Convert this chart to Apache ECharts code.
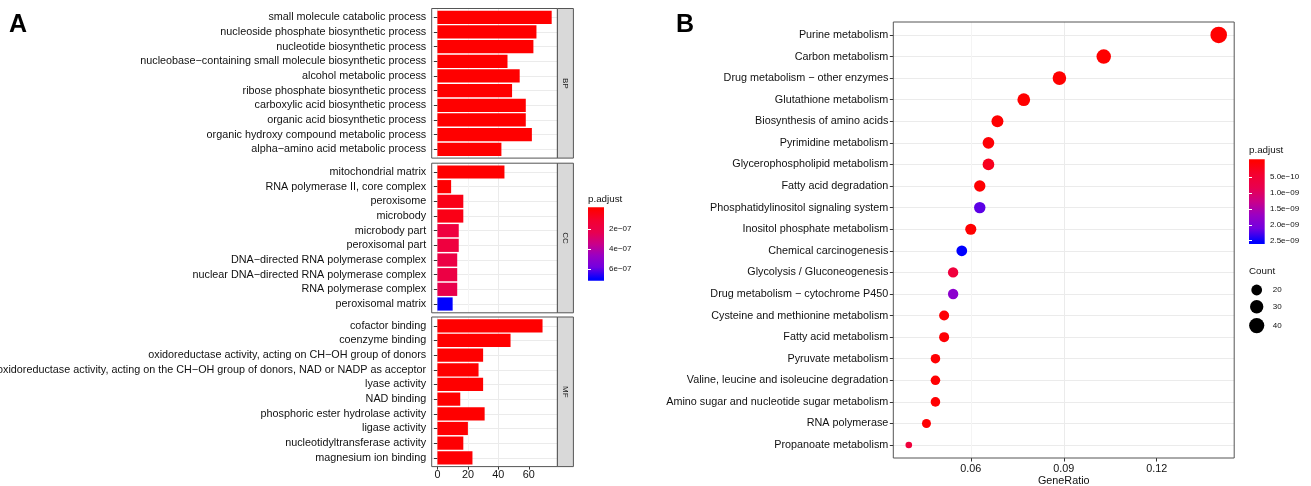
<!DOCTYPE html>
<html>
<head>
<meta charset="utf-8">
<script src="https://cdn.jsdelivr.net/npm/echarts@6/dist/echarts.min.js"></script>
<style>
  html, body { margin: 0; padding: 0; background: #fff; }
  #main { width: 1311px; height: 486px; }
</style>
</head>
<body>
<div id="main"></div>
<script>
// ---- panel A: GO enrichment, one facet per ontology ----
var bpTerms = ['small molecule catabolic process', 'nucleoside phosphate biosynthetic process', 'nucleotide biosynthetic process',
  'nucleobase\u2212containing small molecule biosynthetic process', 'alcohol metabolic process', 'ribose phosphate biosynthetic process',
  'carboxylic acid biosynthetic process', 'organic acid biosynthetic process', 'organic hydroxy compound metabolic process',
  'alpha\u2212amino acid metabolic process'];
var bpCounts = [75, 65, 63, 46, 54, 49, 58, 58, 62, 42];
var bpPadj = [1.5e-15, 2.0e-13, 3.1e-13, 4.4e-12, 6.0e-12, 2.3e-11, 3.3e-11, 3.6e-11, 8.1e-11, 2.2e-10];

var ccTerms = ['mitochondrial matrix', 'RNA polymerase II, core complex', 'peroxisome', 'microbody', 'microbody part',
  'peroxisomal part', 'DNA\u2212directed RNA polymerase complex', 'nuclear DNA\u2212directed RNA polymerase complex',
  'RNA polymerase complex', 'peroxisomal matrix'];
var ccCounts = [44, 9, 17, 17, 14, 14, 13, 13, 13, 10];
var ccPadj = [1.1e-10, 3.6e-09, 5.2e-08, 5.2e-08, 1.7e-07, 1.7e-07, 1.9e-07, 1.9e-07, 2.2e-07, 7.0e-07];

var mfTerms = ['cofactor binding', 'coenzyme binding', 'oxidoreductase activity, acting on CH\u2212OH group of donors',
  'oxidoreductase activity, acting on the CH\u2212OH group of donors, NAD or NADP as acceptor', 'lyase activity', 'NAD binding',
  'phosphoric ester hydrolase activity', 'ligase activity', 'nucleotidyltransferase activity', 'magnesium ion binding'];
var mfCounts = [69, 48, 30, 27, 30, 15, 31, 20, 17, 23];
var mfPadj = [2.5e-14, 1.1e-12, 6.3e-11, 1.4e-10, 3.2e-10, 4.0e-10, 9.1e-10, 4.6e-09, 6.9e-09, 9.7e-09];

var countTicksA = [0, 20, 40, 60];
var padjTicksA = [2e-07, 4e-07, 6e-07];

// ---- panel B: KEGG dot plot ----
var keggTerms = ['Purine metabolism', 'Carbon metabolism', 'Drug metabolism \u2212 other enzymes', 'Glutathione metabolism',
  'Biosynthesis of amino acids', 'Pyrimidine metabolism', 'Glycerophospholipid metabolism', 'Fatty acid degradation',
  'Phosphatidylinositol signaling system', 'Inositol phosphate metabolism', 'Chemical carcinogenesis',
  'Glycolysis / Gluconeogenesis', 'Drug metabolism \u2212 cytochrome P450', 'Cysteine and methionine metabolism',
  'Fatty acid metabolism', 'Pyruvate metabolism', 'Valine, leucine and isoleucine degradation',
  'Amino sugar and nucleotide sugar metabolism', 'RNA polymerase', 'Propanoate metabolism'];
var keggRatio = [0.1400, 0.1029, 0.0886, 0.0771, 0.0686, 0.0657, 0.0657, 0.0629, 0.0629, 0.0600,
  0.0571, 0.0543, 0.0543, 0.0514, 0.0514, 0.0486, 0.0486, 0.0486, 0.0457, 0.0400];
var keggCounts = [49, 36, 31, 27, 24, 23, 23, 22, 22, 21, 20, 19, 19, 18, 18, 17, 17, 17, 16, 14];
var keggPadj = [1.2e-15, 3.0e-14, 5.3e-13, 2.1e-12, 6.6e-12, 4.2e-11, 2.6e-10, 1.0e-11, 2.2e-09, 8.0e-12,
  2.54e-09, 5.7e-10, 1.85e-09, 3.4e-11, 4.5e-11, 1.3e-11, 1.5e-11, 1.6e-11, 3.0e-11, 5.6e-10];

var ratioTicksB = [0.06, 0.09, 0.12];
var padjTicksB = [5e-10, 1e-09, 1.5e-09, 2e-09, 2.5e-09];
var countBreaks = [20, 30, 40];

// ---- look ----
var FONT = '"Liberation Sans", Arial, Helvetica, sans-serif';
var TXT = '#111';
var FS = 10.8;
var MAJOR = '#ebebeb', MINOR = '#f4f4f4', FRAME = '#555';
// red -> blue, stepped through Lab like ggplot's gradient
var PALETTE = ['#ff0000', '#f40031', '#e80050', '#ca0089', '#9a00c3', '#7300e0', '#0000ff'];

var A = { left: 431.7, right: 557.4, tops: [8.5, 163.2, 317.0], height: 149.6, strip: 16 };
var B = { left: 893.3, right: 1234.2, top: 22, bottom: 458 };

function minOf(a) { return Math.min.apply(null, a); }
function maxOf(a) { return Math.max.apply(null, a); }

function sci(v, digits) {
  var s = v.toExponential(digits).split('e');
  var e = parseInt(s[1], 10);
  var a = Math.abs(e);
  return s[0] + 'e' + (e < 0 ? '\u2212' : '+') + (a < 10 ? '0' + a : a);
}

function barGradient() {
  var e = 0.025;
  return {
    type: 'linear', x: 0, y: 0, x2: 0, y2: 1,
    colorStops: PALETTE.map(function (c, k) { return { offset: e + (1 - 2 * e) * k / (PALETTE.length - 1), color: c }; })
  };
}

var grids = [], xAxis = [], yAxis = [], series = [], legends = [];

function grid(o) {
  o.outerBoundsMode = 'none';
  o.containLabel = false;
  grids.push(o);
  return grids.length - 1;
}
function off(gi) {
  return { gridIndex: gi, type: 'value', show: false, min: 0, max: 1 };
}
function frameGrid(l, t, w, h, fill) {
  var gi = grid({ left: l, top: t, width: w, height: h, show: true, z: 3,
    borderColor: FRAME, borderWidth: 1, backgroundColor: fill || 'transparent' });
  xAxis.push(off(gi));
  return gi;
}
// horizontal grid lines through the category centres (ggplot pads 0.6 of a row at each end)
function rowLines(l, t, w, h, n) {
  var unit = h / (n + 0.2);
  var gi = grid({ left: l, top: t + 0.6 * unit, width: w, height: (n - 1) * unit });
  xAxis.push(off(gi));
  yAxis.push({
    gridIndex: gi, type: 'value', min: 0, max: n - 1, interval: 1,
    axisLine: { show: false }, axisTick: { show: false }, axisLabel: { show: false },
    splitLine: { show: true, lineStyle: { color: MAJOR, width: 1 } }
  });
}

// ---------- panel A ----------
var facets = [
  { name: 'BP', terms: bpTerms, counts: bpCounts, padj: bpPadj },
  { name: 'CC', terms: ccTerms, counts: ccCounts, padj: ccPadj },
  { name: 'MF', terms: mfTerms, counts: mfCounts, padj: mfPadj }
];
var cntMax = maxOf(bpCounts.concat(ccCounts, mfCounts));
var xMinA = -0.05 * cntMax, xMaxA = 1.05 * cntMax;
var allPadjA = bpPadj.concat(ccPadj, mfPadj);
var pMinA = minOf(allPadjA), pMaxA = maxOf(allPadjA);
var barIdx = [];

facets.forEach(function (f, i) {
  var W = A.right - A.left, T = A.tops[i], H = A.height;
  var inset = 0.1 * H / (f.terms.length + 0.2);
  var last = i === facets.length - 1;

  // vertical grid lines + bottom axis, from 0 to the right edge
  var zx = A.left + (0 - xMinA) / (xMaxA - xMinA) * W;
  var gs = grid({ left: zx, top: T, width: A.right - zx, height: H });
  xAxis.push({
    gridIndex: gs, type: 'value', min: 0, max: xMaxA, interval: 10,
    axisLine: { show: false },
    axisTick: { show: last, customValues: countTicksA, length: 3, lineStyle: { color: '#333' } },
    axisLabel: { show: last, customValues: countTicksA, margin: 3.2, fontSize: FS, color: TXT,
      formatter: function (v) { return v % 20 === 0 ? String(v) : ''; } },
    splitLine: { show: true, showMaxLine: false, lineStyle: { color: [MAJOR, MINOR], width: 1 } }
  });
  yAxis.push(off(gs));

  rowLines(A.left, T, W, H, f.terms.length);

  // bars
  var gd = grid({ left: A.left, top: T + inset, width: W, height: H - 2 * inset });
  xAxis.push({ gridIndex: gd, type: 'value', min: xMinA, max: xMaxA, show: false });
  yAxis.push({
    gridIndex: gd, type: 'category', data: f.terms, inverse: true,
    axisLine: { show: false },
    axisTick: { show: true, alignWithLabel: true, length: 3.5, lineStyle: { color: '#333' } },
    axisLabel: { interval: 0, margin: 5.5, fontSize: FS, color: TXT },
    splitLine: { show: false }
  });
  series.push({
    type: 'bar', name: f.name, xAxisIndex: xAxis.length - 1, yAxisIndex: yAxis.length - 1,
    barWidth: '90%', encode: { x: 0, y: 1 },
    data: f.terms.map(function (t, k) { return [f.counts[k], t, f.padj[k]]; })
  });
  barIdx.push(series.length - 1);

  // panel border
  frameGrid(A.left, T, W, H);
  yAxis.push(off(grids.length - 1));

  // facet strip
  var gst = frameGrid(A.right, T, A.strip, H, '#d9d9d9');
  yAxis.push({
    gridIndex: gst, type: 'value', min: 0, max: 1, position: 'right', z: 4,
    axisLine: { show: false }, axisTick: { show: false }, axisLabel: { show: false }, splitLine: { show: false },
    name: f.name, nameLocation: 'middle', nameRotate: -90, nameGap: -A.strip / 2, nameMoveOverlap: false,
    nameTextStyle: { fontSize: 8, color: '#1a1a1a', align: 'center', verticalAlign: 'middle' }
  });
});

// colour bar, panel A
var extA = (pMaxA - pMinA) / 38;
var gcA = grid({ left: 588, top: 207.3, width: 16, height: 73.4, show: true, borderWidth: 0, backgroundColor: barGradient() });
xAxis.push(off(gcA));
yAxis.push({
  gridIndex: gcA, type: 'value', inverse: true, min: pMinA - extA, max: pMaxA + extA, position: 'right',
  axisLine: { show: false }, splitLine: { show: false },
  axisTick: { show: true, inside: true, length: 3, customValues: padjTicksA, lineStyle: { color: '#fff' } },
  axisLabel: { customValues: padjTicksA, margin: 5, fontSize: 8, color: TXT, formatter: function (v) { return sci(v, 0); } }
});
yAxis.push({
  gridIndex: gcA, type: 'value', inverse: true, min: pMinA - extA, max: pMaxA + extA, position: 'left',
  axisLine: { show: false }, splitLine: { show: false }, axisLabel: { show: false },
  axisTick: { show: true, inside: true, length: 3, customValues: padjTicksA, lineStyle: { color: '#fff' } }
});

// ---------- panel B ----------
var rMin = minOf(keggRatio), rMax = maxOf(keggRatio);
var loB = rMin - 0.05 * (rMax - rMin), hiB = rMax + 0.05 * (rMax - rMin);
var WB = B.right - B.left, HB = B.bottom - B.top;
var insetB = 0.1 * HB / (keggTerms.length + 0.2);
var stepB = 0.015;
var sLoB = parseFloat((Math.ceil(loB / stepB - 1e-9) * stepB).toFixed(6));

var sxB = B.left + (sLoB - loB) / (hiB - loB) * WB;
var gsB = grid({ left: sxB, top: B.top, width: B.right - sxB, height: HB });
xAxis.push({
  gridIndex: gsB, type: 'value', min: sLoB, max: hiB, interval: stepB,
  axisLine: { show: false },
  axisTick: { show: true, customValues: ratioTicksB, length: 3.5, lineStyle: { color: '#333' } },
  axisLabel: { customValues: ratioTicksB, margin: 5.3, fontSize: FS, color: TXT,
    formatter: function (v) { return Math.abs(v / 0.03 - Math.round(v / 0.03)) < 1e-6 ? v.toFixed(2) : ''; } },
  splitLine: { show: true, showMaxLine: false, lineStyle: { color: [MINOR, MAJOR], width: 1 } }
});
yAxis.push(off(gsB));

rowLines(B.left, B.top, WB, HB, keggTerms.length);

var gdB = grid({ left: B.left, top: B.top + insetB, width: WB, height: HB - 2 * insetB });
xAxis.push({
  gridIndex: gdB, type: 'value', min: loB, max: hiB,
  axisLine: { show: false }, axisTick: { show: false }, axisLabel: { show: false }, splitLine: { show: false },
  name: 'GeneRatio', nameLocation: 'middle', nameGap: 20, nameMoveOverlap: false,
  nameTextStyle: { fontSize: FS, color: TXT }
});
yAxis.push({
  gridIndex: gdB, type: 'category', data: keggTerms, inverse: true,
  axisLine: { show: false },
  axisTick: { show: true, alignWithLabel: true, length: 3.5, lineStyle: { color: '#333' } },
  axisLabel: { interval: 0, margin: 5, fontSize: FS, color: TXT },
  splitLine: { show: false }
});

// ggplot scale_size(range = c(3, 8)) turned into pixels
var cMin = minOf(keggCounts), cMax = maxOf(keggCounts);
function dotSize(c) {
  return 0.7 * (2.845 * (3 + 5 * Math.sqrt(Math.max(0, c - cMin) / (cMax - cMin))) + 0.945);
}
series.push({
  type: 'scatter', name: 'KEGG', xAxisIndex: xAxis.length - 1, yAxisIndex: yAxis.length - 1,
  encode: { x: 0, y: 1 }, symbol: 'circle',
  symbolSize: function (val) { return dotSize(val[3]); },
  itemStyle: { opacity: 1 },
  data: keggTerms.map(function (t, k) { return [keggRatio[k], t, keggPadj[k], keggCounts[k]]; })
});
var dotIdx = series.length - 1;
var dataB = xAxis.length - 1;

frameGrid(B.left, B.top, WB, HB);
yAxis.push(off(grids.length - 1));

// colour bar, panel B
var pMinB = minOf(keggPadj), pMaxB = maxOf(keggPadj);
var extB = (pMaxB - pMinB) / 38;
var gcB = grid({ left: 1249, top: 159.3, width: 15.7, height: 84.7, show: true, borderWidth: 0, backgroundColor: barGradient() });
xAxis.push(off(gcB));
yAxis.push({
  gridIndex: gcB, type: 'value', inverse: true, min: pMinB - extB, max: pMaxB + extB, position: 'right',
  axisLine: { show: false }, splitLine: { show: false },
  axisTick: { show: true, inside: true, length: 3, customValues: padjTicksB, lineStyle: { color: '#fff' } },
  axisLabel: { customValues: padjTicksB, margin: 5.3, fontSize: 8, color: TXT, formatter: function (v) { return sci(v, 1); } }
});
yAxis.push({
  gridIndex: gcB, type: 'value', inverse: true, min: pMinB - extB, max: pMaxB + extB, position: 'left',
  axisLine: { show: false }, splitLine: { show: false }, axisLabel: { show: false },
  axisTick: { show: true, inside: true, length: 3, customValues: padjTicksB, lineStyle: { color: '#fff' } }
});

// size legend: one legend per break, keys stacked like ggplot's (key height grows with the dot)
var keyTop = 282.05, keyX = 1256.7, keyLabelX = 1272.7;
countBreaks.forEach(function (c) {
  var d = dotSize(c);
  var keyH = Math.max(17.28, (d / 0.7)) * 0.92;
  var cy = keyTop + keyH / 2;
  keyTop += keyH;
  series.push({ type: 'scatter', name: String(c), xAxisIndex: dataB, yAxisIndex: dataB, data: [],
    symbol: 'circle', itemStyle: { color: '#000', opacity: 1 } });
  legends.push({
    data: [String(c)], left: keyX - d / 2, top: cy - d / 2, itemWidth: d, itemHeight: d, icon: 'circle',
    selectedMode: false, padding: 0, itemGap: 0,
    textStyle: { fontSize: 8, color: TXT, padding: [0, 0, 0, keyLabelX - (keyX + d / 2 + 5)] }
  });
});

var option = {
  animation: false,
  backgroundColor: '#fff',
  textStyle: { fontFamily: FONT },
  title: [
    { text: 'A', left: 9, top: 13, padding: 0, textStyle: { fontSize: 25, fontWeight: 'bold', color: '#000', fontFamily: FONT } },
    { text: 'B', left: 676, top: 13, padding: 0, textStyle: { fontSize: 25, fontWeight: 'bold', color: '#000', fontFamily: FONT } },
    { text: 'p.adjust', left: 588, top: 193.9, padding: 0, textStyle: { fontSize: 9.8, fontWeight: 'normal', color: TXT, fontFamily: FONT } },
    { text: 'p.adjust', left: 1249, top: 145.5, padding: 0, textStyle: { fontSize: 9.8, fontWeight: 'normal', color: TXT, fontFamily: FONT } },
    { text: 'Count', left: 1249, top: 266.2, padding: 0, textStyle: { fontSize: 9.8, fontWeight: 'normal', color: TXT, fontFamily: FONT } }
  ],
  grid: grids,
  xAxis: xAxis,
  yAxis: yAxis,
  legend: legends,
  visualMap: [
    { type: 'continuous', show: false, seriesIndex: barIdx, dimension: 2, min: pMinA, max: pMaxA, inRange: { color: PALETTE } },
    { type: 'continuous', show: false, seriesIndex: [dotIdx], dimension: 2, min: pMinB, max: pMaxB, inRange: { color: PALETTE } }
  ],
  series: series
};

var chart = echarts.init(document.getElementById('main'), null, { renderer: 'canvas' });
chart.setOption(option);
</script>
</body>
</html>
